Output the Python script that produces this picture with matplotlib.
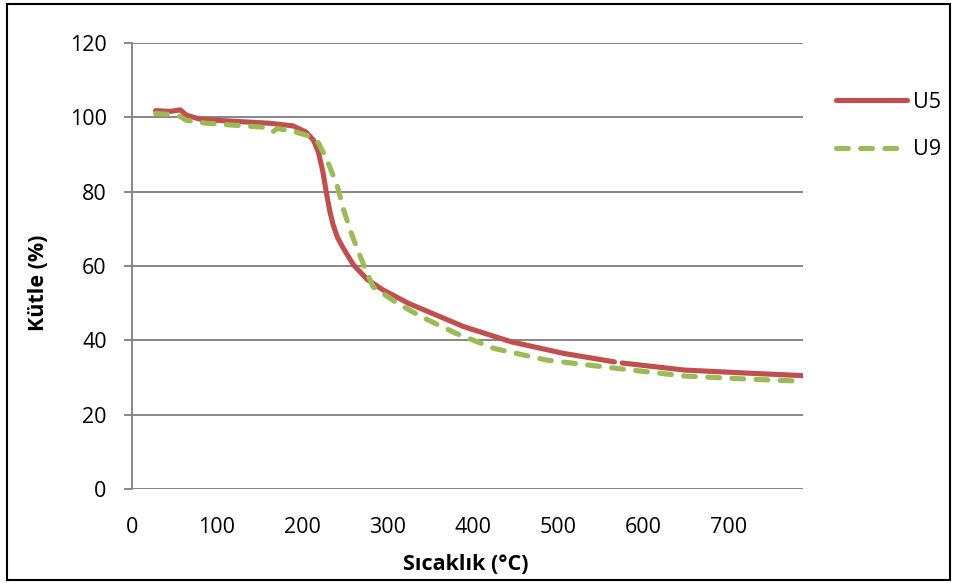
import numpy as np
import matplotlib
matplotlib.use("Agg")
import matplotlib.pyplot as plt
from matplotlib.patches import Rectangle
from matplotlib.lines import Line2D

# ---- data ----
u5_temp = [28, 45, 57, 64, 80, 100, 123, 162, 189, 204, 213, 219, 224, 228, 232, 236,
           241, 248, 260, 276, 295, 325, 389, 445, 506, 566, np.nan, 575, 648, 729, 787]
u5_mass = [101.8, 101.6, 102.0, 100.6, 99.5, 99.2, 98.9, 98.4, 97.7, 96.1, 93.9, 90.5,
           85.5, 80.0, 75.0, 71.2, 67.8, 64.8, 60.3, 56.4, 53.5, 49.9, 43.7, 39.6, 36.5,
           34.2, np.nan, 33.9, 32.0, 31.1, 30.5]

u9_temp = [28, 45, 57, 64, 88, 119, 151, 160, 166, 171, 193, 209, 219, 229, 241, 248,
           256, 265, 273, 283, 312, 340, 380, 425, 486, 567, 648, 729, 787]
u9_mass = [101.0, 100.8, 100.2, 99.2, 98.4, 97.9, 97.4, 97.2, 96.2, 97.0, 96.0, 94.9,
           93.1, 88.5, 81.5, 75.5, 69.7, 64.3, 59.7, 54.4, 49.9, 46.3, 41.9, 37.8, 34.7,
           32.5, 30.4, 29.5, 29.0]

series_names = ["U5", "U9"]
x_ticks = [0, 100, 200, 300, 400, 500, 600, 700]
y_ticks = [0, 20, 40, 60, 80, 100, 120]
x_label = "Sıcaklık (°C)"
y_label = "Kütle (%)"

# ---- style ----
plt.rcParams['font.family'] = ['Open Sans', 'DejaVu Sans']
W, H = 957, 583
fig = plt.figure(figsize=(W / 100, H / 100), dpi=100)

left_px, right_px, top_px, bottom_px = 131.7, 803, 43, 489
ax = fig.add_axes([left_px / W, 1 - bottom_px / H,
                   (right_px - left_px) / W, (bottom_px - top_px) / H])

red = "#C0504D"
green = "#9BBB59"
grid_c = "#878787"
lw = 3.7
fs = 15.5

ax.plot(u5_temp, u5_mass, color=red, lw=lw, solid_capstyle='round',
        solid_joinstyle='round', zorder=3)
l9, = ax.plot(u9_temp, u9_mass, color=green, lw=lw, dash_capstyle='round',
              zorder=4)
l9.set_dashes([2.3, 2.4])

ax.set_xlim(0, 787)
ax.set_ylim(0, 120)
ax.set_xticks(x_ticks)
ax.set_yticks(y_ticks)
ax.yaxis.grid(True, color=grid_c, lw=1.4)
ax.set_axisbelow(True)
for s in ["top", "right", "bottom"]:
    ax.spines[s].set_visible(False)
ax.spines["left"].set_color(grid_c)
ax.spines["left"].set_linewidth(1.4)
ax.tick_params(axis='y', length=6, width=1.4, color=grid_c, pad=12,
               labelsize=fs, labelcolor="black")
ax.tick_params(axis='x', length=0, pad=20, labelsize=fs, labelcolor="black")

fig.text(466 / W, 1 - 565 / H, x_label, ha='center', va='center',
         fontsize=15.5, fontweight='bold')
fig.text(38 / W, 1 - 283 / H, y_label, ha='center', va='center',
         rotation=90, fontsize=15.5, fontweight='bold')

# legend
h5 = Line2D([], [], color=red, lw=lw, solid_capstyle='round')
h9 = Line2D([], [], color=green, lw=lw, dash_capstyle='round')
h9.set_dashes([2.3, 2.4])
leg = fig.legend([h5, h9], series_names, loc='center left',
                 bbox_to_anchor=(817 / W, 1 - 126 / H), frameon=False,
                 fontsize=fs, handlelength=3.3, handletextpad=0.25,
                 labelspacing=1.25)

# outer frame
fig.patches.append(Rectangle((7.5 / W, 3.5 / H), (950 - 7.5) / W, (579 - 3.5) / H,
                             transform=fig.transFigure, fill=False,
                             edgecolor="black", lw=1.5))

fig.savefig("out.png", dpi=100)
